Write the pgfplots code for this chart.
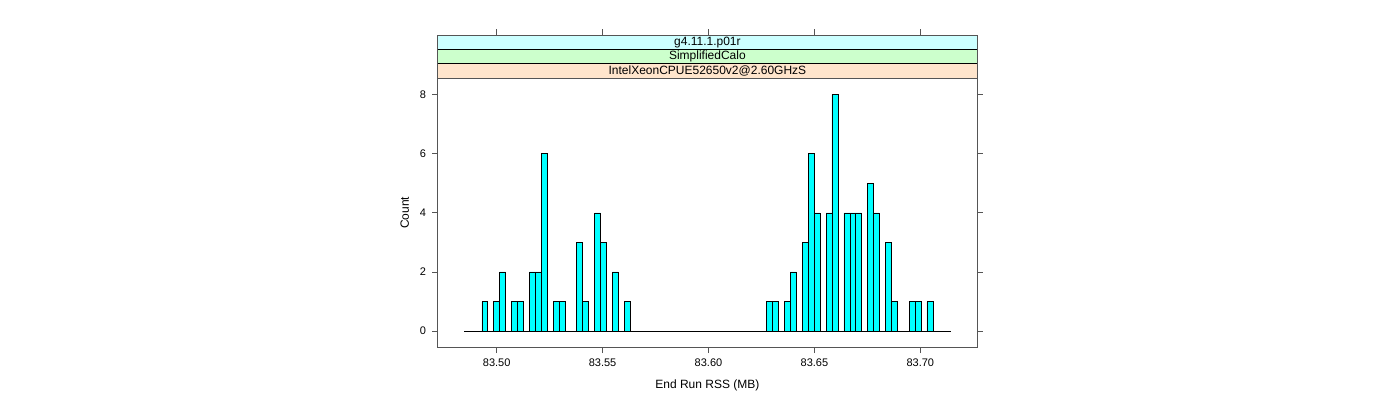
\documentclass[border=0pt]{standalone}
\usepackage{fontspec}
\setmainfont{Liberation Sans}
\usepackage{pgfplots}
\pgfplotsset{compat=1.18}
\definecolor{barcyan}{HTML}{00FFFF}
\definecolor{stripA}{HTML}{CCFFFF}
\definecolor{stripB}{HTML}{CCFFCC}
\definecolor{stripC}{HTML}{FFE5CC}
\definecolor{axgray}{HTML}{555555}
% x values: End Run RSS in units of 0.001 MB above 83.50 MB
\begin{document}
\begin{tikzpicture}[x=1pt,y=1pt]
\useasboundingbox (0,0) rectangle (1400,400);
% strips
\draw[axgray, line width=0.8pt, fill=stripC] (437.5,322) rectangle (977.3,336.3);
\draw[axgray, line width=0.8pt, fill=stripB] (437.5,336.3) rectangle (977.3,350.7);
\draw[axgray, line width=0.8pt, fill=stripA] (437.5,350.7) rectangle (977.3,365);
\draw[black, line width=0.7pt] (437.5,336.3) -- (977.3,336.3);
\draw[black, line width=0.7pt] (437.5,350.7) -- (977.3,350.7);
\node[font=\fontsize{12}{14}\selectfont, inner sep=0pt] at (707.4,329.15) {IntelXeonCPUE52650v2@2.60GHzS};
\node[font=\fontsize{12}{14}\selectfont, inner sep=0pt] at (707.4,343.5) {SimplifiedCalo};
\node[font=\fontsize{12}{14}\selectfont, inner sep=0pt] at (707.4,357.85) {g4.11.1.p01r};
% top ticks (above strips)
\foreach \px in {496.7,602.6,708.5,814.4,920.3}
  \draw[axgray, line width=0.8pt] (\px,365) -- (\px,370.5);
\begin{axis}[
  at={(437.5pt,52.3pt)}, anchor=south west,
  scale only axis, width=539.8pt, height=269.7pt,
  xmin=-27.95, xmax=226.91, ymin=-0.56, ymax=8.56,
  xtick={0,50,100,150,200},
  xticklabels={83.50,83.55,83.60,83.65,83.70},
  ytick={0,2,4,6,8},
  xtick pos=bottom, ytick pos=both, yticklabel pos=left,
  tick align=outside,
  major tick length=5.5pt,
  tick style={axgray, line width=0.8pt},
  axis line style={axgray, line width=0.8pt},
  /pgf/number format/assume math mode=true,
  ticklabel style={font=\fontsize{11}{13}\selectfont},
  xticklabel style={yshift=-2.5pt},
  yticklabel style={xshift=-2.5pt},
  xlabel={End Run RSS (MB)}, ylabel={Count},
  label style={font=\fontsize{12}{14}\selectfont},
  xlabel style={yshift=-6pt},
  ylabel style={yshift=4pt},
  clip=false,
]
\addplot[black, line width=0.8pt] coordinates {(-15.44,0) (214.35,0)};
\addplot[ybar, bar width=2.8023, bar shift=0pt, fill=barcyan, draw=black, line width=0.6pt] coordinates {
(-5.632,1) (-0.027,1) (2.775,2) (8.379,1) (11.182,1)
(16.786,2) (19.589,2) (22.391,6) (27.996,1) (30.798,1)
(39.205,3) (42.007,1) (47.612,4) (50.414,3) (56.019,2)
(61.623,1)
(128.878,1) (131.681,1) (137.285,1) (140.088,2) (145.692,3)
(148.494,6) (151.297,4) (156.901,4) (159.704,8) (165.308,4)
(168.111,4) (170.913,4) (176.517,5) (179.320,4) (184.924,3)
(187.727,1) (196.134,1) (198.936,1) (204.540,1)
};
\end{axis}
\end{tikzpicture}
\end{document}
